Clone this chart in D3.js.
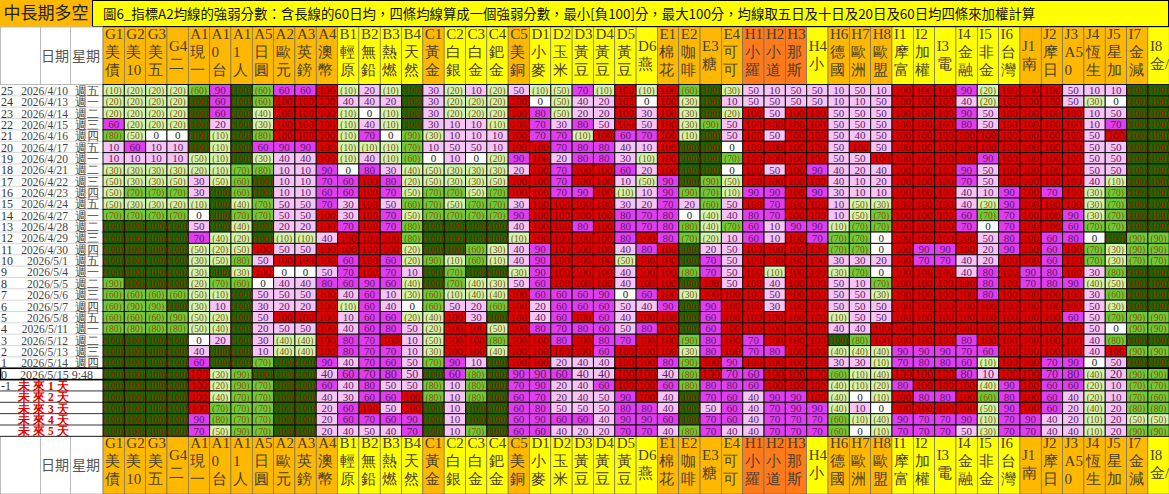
<!DOCTYPE html>
<html lang="zh-Hant">
<head>
<meta charset="UTF-8">
<title>中長期多空</title>
<style>
  body { margin:0; background:#fff; }
  svg { display:block; font-family:"Liberation Serif","DejaVu Serif",serif; }
</style>
</head>
<body>
<svg width="1169" height="494"></svg>
<script src="https://d3js.org/d3.v7.min.js"></script>
<script>
// column codes / names / header colour group (o=orange, y=yellow, r=deep orange)
var codes = ['G1','G2','G3','G4','A1','A1','A1','A5','A2','A3','A4','B1','B2','B3','B4','C1','C2','C3','C4','C5',
  'D1','D2','D3','D4','D5','D6','E1','E2','E3','E4','H1','H2','H3','H4','H6','H7','H8','I1','I2','I3','I4','I5','I6',
  'J1','J2','J3','J4','J5','I7','I8'];
var names = ['美債20','美10年','美五年','二年','現一美','0台幣','1人民','日圓期','歐元期','英鎊期','澳幣期','輕原油','無鉛汽','熱燃油','天然氣',
  '黃金期','白銀期','白金期','鈀金期','美銅期','小麥W','玉米C','黃豆S','黃豆油','黃豆粉','燕麥','棉花','咖啡','糖','可可',
  '小羅素','小道瓊','那斯達','小SP','德國指','歐洲藍','歐盟銀','摩富台','加權指','電子','金融','非金電','台灣櫃',
  '南韓','摩日經','A50大','恆生期','星加坡','金減電','金/電'];
var groups = 'oooooooooooyyyyoyyyoyyyyyyoooorrryoooyyyyyyoooooooy'.split('').slice(0,50);
groups[49] = 'y';
var lowCode = ['G4','D6','E3','H4','I3','J1','I8'];

var rowNums = [25,24,23,22,21,20,19,18,17,16,15,14,13,12,11,10,9,8,7,6,5,4,3,2,1,0,-1,-2,-3,-4,-5];
var dates = ['2026/4/10','2026/4/13','2026/4/14','2026/4/15','2026/4/16','2026/4/17','2026/4/20','2026/4/21','2026/4/22',
  '2026/4/23','2026/4/24','2026/4/27','2026/4/28','2026/4/29','2026/4/30','2026/5/1','2026/5/4','2026/5/5','2026/5/6',
  '2026/5/7','2026/5/8','2026/5/11','2026/5/12','2026/5/13','2026/5/14','2026/5/15 9:48',
  '未來1天','未來2天','未來3天','未來4天','未來5天'];
var weekdays = ['週五','週一','週二','週三','週四','週五','週一','週二','週三','週四','週五','週一','週二','週三','週四','週五',
  '週一','週二','週三','週四','週五','週一','週二','週三','週四','','','','','',''];

// scores, one array per row (negative = shown in brackets)
var scores = [
 [-10,-20,-20,-20,-60,90,-100,-60,60,60,100,-10,20,-10,-100,30,-20,10,-20,50,-10,-50,70,-10,100,-10,100,-60,-100,-30,50,10,50,50,10,50,10,100,100,100,90,-20,100,100,100,50,10,10,-100,-100],
 [-20,-20,-20,-20,-100,60,-100,-60,100,100,100,40,40,20,-100,30,-20,-20,-20,100,0,-50,40,20,100,0,100,-30,-100,10,50,50,50,50,10,10,50,100,100,100,40,-20,100,100,100,50,-30,0,-100,-100],
 [-20,-20,-20,-20,-100,60,-100,-40,100,100,100,-10,0,-10,-100,30,-20,-20,-20,100,80,-50,20,20,100,30,100,-30,-100,-20,100,50,100,100,50,50,50,100,100,100,90,50,100,100,100,100,10,50,-100,-100],
 [60,-20,-20,-20,-100,20,-100,-30,100,100,100,-10,40,-10,-100,30,10,10,-10,100,70,30,80,50,100,50,100,-30,-90,50,100,100,100,100,50,50,50,100,100,100,80,50,100,100,100,100,10,70,-100,-100],
 [-80,-50,0,0,-100,-10,-100,-80,100,100,100,-10,70,0,-90,-30,10,10,10,100,70,70,-10,100,60,70,100,-10,-100,50,100,50,100,100,50,40,50,100,100,100,100,100,100,100,100,100,50,100,-100,-100],
 [10,60,10,10,-100,-10,-100,60,90,90,100,-10,-10,-10,-70,10,50,50,10,100,100,70,80,80,40,10,100,-100,-100,0,100,100,100,100,50,100,50,100,100,100,100,100,100,100,100,100,50,50,-100,-100],
 [10,10,10,10,-50,-10,-100,-30,40,40,100,-10,40,-10,-60,0,10,0,-20,90,100,20,80,80,30,-10,100,-100,-100,-70,100,100,100,100,50,50,100,100,100,100,100,90,100,100,100,100,50,50,-100,-100],
 [-30,-30,-30,-30,-20,-10,-70,-80,10,10,90,0,80,30,-40,-50,-30,-30,-30,20,100,70,100,100,60,20,100,-100,-100,0,100,50,100,90,40,20,40,100,100,100,90,50,100,100,100,100,50,50,-100,-100],
 [-50,-30,-30,-50,30,-50,-60,-100,10,10,70,60,100,80,-20,-50,-30,-30,-50,100,100,70,100,100,10,-50,90,-100,-90,-50,100,100,100,100,40,10,20,100,100,100,70,50,100,100,100,100,40,-10,-100,-100],
 [-50,-70,-70,-70,30,-100,-60,-100,10,10,60,60,100,70,-50,-70,-70,-50,-70,100,100,70,90,100,-10,10,90,-90,-70,-10,90,90,100,90,30,10,10,100,100,100,40,10,90,100,70,100,-30,-70,-100,-100],
 [-50,-30,-30,-20,-10,-100,-40,-70,50,50,70,30,100,50,-60,-70,-50,-70,-70,30,100,100,100,100,30,20,70,20,-60,50,100,70,100,100,10,-50,-30,100,100,100,40,-30,90,100,100,100,-30,-70,-100,-100],
 [-70,-70,-70,-70,0,-100,-70,-70,50,50,100,30,100,70,-50,-70,-70,-70,-70,90,100,100,100,100,80,70,80,0,-40,40,80,70,100,100,10,-50,-70,100,100,100,60,-70,70,100,100,90,-30,-70,-100,-100],
 [-100,-100,-100,-100,50,-100,-40,-100,20,20,100,70,100,70,-80,-100,-100,-100,-100,40,100,100,80,100,80,70,80,-80,-40,-70,60,10,90,90,-10,-70,-70,100,100,100,70,0,70,100,100,60,-70,-70,-100,-100],
 [-100,-100,-100,-100,70,-40,-20,-100,-10,-10,40,100,100,100,-80,-100,-100,-100,-100,-10,100,100,100,100,80,100,80,-70,-20,10,60,10,100,70,-70,-70,0,100,100,100,100,50,80,100,60,80,0,-100,-90,-90],
 [-100,-100,-100,-100,-50,-20,-50,100,50,50,100,100,100,100,-20,-100,-100,-60,-30,40,90,100,100,100,40,80,100,-100,20,50,100,100,100,100,-70,-70,0,100,90,90,100,20,90,100,60,100,-70,-30,-90,-90],
 [-100,-100,-100,-100,-30,-50,-80,50,100,100,100,60,100,60,-20,-90,-10,-60,-10,40,90,100,100,100,-50,100,100,-100,70,50,100,100,100,100,30,30,20,100,70,70,40,20,100,100,60,100,-70,-30,-70,-70],
 [-100,-100,-100,-100,-30,-100,-30,100,0,0,50,70,100,70,10,-100,-70,-100,-100,-30,90,100,100,100,40,100,100,-80,70,50,100,-10,100,100,-30,-70,0,100,100,100,40,80,100,90,80,100,30,-80,-100,-100],
 [-90,-100,-100,-100,-20,-70,-60,0,40,40,80,60,90,60,-40,-100,-70,-40,-30,50,60,100,100,100,40,100,100,-100,100,50,100,40,100,100,50,10,-70,100,100,100,100,80,100,70,80,90,-40,-50,-100,-100],
 [-60,-60,-60,-60,-50,-10,-100,50,50,50,100,40,60,10,-30,-60,-10,-40,-40,100,60,60,60,90,0,60,100,-30,100,100,100,50,100,100,50,50,-30,100,100,100,100,80,100,100,100,100,30,-60,-100,-100],
 [-60,-90,-90,-100,-30,10,-100,30,20,20,100,-10,60,40,0,-60,50,20,-60,100,20,60,60,60,50,40,90,-100,90,100,100,30,100,100,50,50,50,100,100,100,100,100,100,100,100,100,50,-30,-100,-100],
 [-60,-60,-60,-90,-50,-20,-100,50,100,100,100,10,60,60,-20,-40,100,30,-100,100,40,60,100,60,40,100,100,-100,60,100,100,100,100,100,-10,50,50,100,100,100,100,100,100,100,100,60,50,-70,-90,-90],
 [-80,-80,-80,-80,-50,-40,-100,20,50,50,100,40,60,80,50,-20,100,100,-50,100,80,70,80,60,50,80,100,-100,60,100,100,100,100,100,40,40,100,100,100,100,100,100,100,100,100,100,50,0,-90,-90],
 [-100,-100,-100,-100,0,20,-100,30,-40,-40,100,80,70,100,10,-50,100,100,-80,100,100,80,100,80,70,100,100,-90,80,100,70,100,100,100,-100,-80,100,100,100,100,80,100,100,100,100,100,40,-80,-100,-100],
 [-100,-100,-100,-100,40,-100,-100,10,-40,-40,100,80,70,70,10,-30,100,100,-40,100,100,100,100,60,100,100,100,-30,80,100,70,80,100,100,-40,-40,-40,90,90,90,70,60,100,100,100,100,40,100,-90,-90],
 [-100,-100,-100,-100,60,-100,-100,-70,-100,-100,90,40,70,60,50,-70,90,10,-100,100,100,20,40,40,100,100,80,-90,100,90,100,100,100,100,30,30,-10,70,80,80,60,-10,100,100,70,90,0,50,-100,-100],
 [-100,-100,-100,-100,100,-30,-90,-100,-100,-100,40,60,70,80,50,-100,60,-80,-100,90,90,60,40,40,100,100,40,-80,100,70,60,100,100,100,-60,-10,-40,100,100,100,80,10,100,100,70,80,-40,20,-90,-90],
 [-100,-100,-100,-100,100,-20,-90,-70,-100,-100,60,40,80,50,50,-80,10,-80,-100,70,90,20,40,60,100,100,60,-80,80,80,60,100,100,100,-40,-10,-20,80,100,100,100,-40,90,100,60,60,-20,10,-70,-70],
 [-100,-100,-100,-100,100,-40,-70,-70,-100,-100,40,30,60,60,100,-80,10,-80,-100,60,70,20,40,50,90,100,40,-100,70,60,40,90,90,100,-40,0,-10,100,80,80,100,-60,80,100,60,40,-20,10,-70,-60],
 [-100,-100,-100,-100,100,-70,-70,-70,-100,-100,20,60,100,50,100,-100,10,-100,-100,60,80,50,50,50,80,80,40,-100,50,60,40,70,90,90,-40,10,0,100,100,100,100,-50,90,100,60,20,-40,20,-80,-80],
 [-100,-100,-100,-100,90,-80,-70,-70,-100,-100,20,60,70,60,90,-100,10,-100,-100,60,90,60,60,40,90,90,60,-100,70,60,40,70,70,70,-60,-10,-40,90,70,70,90,-10,70,90,40,20,-10,20,-50,-50],
 [-100,-100,-100,-100,70,-50,-90,-70,-100,-100,20,40,50,40,70,-100,10,-70,-100,60,60,40,20,20,70,70,40,-80,70,40,40,70,70,70,-60,0,-10,70,70,70,50,-30,70,70,40,40,-10,20,-90,-90]
];

var svg = d3.select('svg');
var W = 1169, leftX = 103, topY = 84.5, rowH = 11.35;
var hdrColor = {o:'#FFB800', y:'#FFFF00', r:'#FF7A1A'};

var x = d3.scaleBand().domain(d3.range(codes.length)).range([leftX, W + 0.2]);
var y = d3.scaleBand().domain(d3.range(rowNums.length)).range([topY, topY + rowH * rowNums.length]);
var cw = x.bandwidth(), ch = y.bandwidth();
var bottomTop = topY + rowH * rowNums.length;

function fill(v) {
  if (v >= 100) return '#E00000';
  if (v >= 60) return '#E23CF0';
  if (v > 0) return '#F6C4F6';
  if (v === 0) return '#FFFFFF';
  if (v > -60) return '#CFF5B0';
  if (v > -100) return '#6DCB3A';
  return '#1D6400';
}
function ink(v) {
  if (v >= 100) return '#7a0000';
  if (v > 0) return '#5c1a66';
  if (v === 0) return '#222';
  if (v > -100) return '#8a5200';
  return '#8a2200';
}
function label(v) { return v < 0 ? '(' + (-v) + ')' : String(v); }

// title row
svg.append('rect').attr('x', 0).attr('y', 0).attr('width', 92).attr('height', 27).attr('fill', '#FFB800');
svg.append('text').attr('x', 46).attr('y', 19).attr('text-anchor', 'middle')
  .style('font-family', '"Noto Sans CJK TC",sans-serif').style('font-size', '17px').attr('fill', '#222').text('中長期多空');
svg.append('rect').attr('x', 92.5).attr('y', 0.5).attr('width', W - 93).attr('height', 26).attr('fill', '#FFFF00').attr('stroke', '#000');
svg.append('text').attr('x', 103).attr('y', 19)
  .style('font-family', '"Noto Sans CJK TC",sans-serif').style('font-size', '13.4px').attr('fill', '#111')
  .text('圖6_指標A2均線的強弱分數：含長線的60日均，四條均線算成一個強弱分數，最小[負100]分，最大100分，均線取五日及十日及20日及60日均四條來加權計算');

// column headers (top and bottom)
function header(y0, h) {
  var g = svg.append('g');
  var clip = 'clip' + Math.round(y0);
  g.append('clipPath').attr('id', clip).append('rect').attr('x', 0).attr('y', y0).attr('width', W).attr('height', h);
  var cols = g.append('g').attr('clip-path', 'url(#' + clip + ')').selectAll('g').data(codes).join('g');
  cols.append('rect').attr('x', (d, i) => x(i)).attr('y', y0).attr('width', cw).attr('height', h)
    .attr('fill', (d, i) => hdrColor[groups[i]]).attr('stroke', '#666').attr('stroke-width', 0.6);
  cols.each(function(d, i) {
    var lines = [d].concat(Array.from(names[i]));
    if (names[i] === '小SP') lines = [d, '小', 'SP'];
    if (names[i] === '金/電') lines = [d, '金/', '電'];
    if (names[i] === '美10年') lines = [d, '美', '10', '年'];
    if (names[i] === '美債20') lines = [d, '美', '債', '20'];
    if (names[i] === 'A50大') lines = [d, 'A5', '0', '大'];
    var off = lowCode.indexOf(d) >= 0 ? 12 : 0;
    var maxY = y0 + h + 1;
    d3.select(this).selectAll('text.h').data(lines.filter((t, k) => y0 + 12 + off + k * 18 <= maxY)).join('text')
      .attr('x', x(i) + 2).attr('y', (t, k) => y0 + 12 + off + k * 18)
      .style('font-size', '15px').attr('fill', '#4a4030').text(t => t);
  });
  g.append('rect').attr('x', 0.5).attr('y', y0).attr('width', 40).attr('height', h).attr('fill', '#fff').attr('stroke', '#bbb');
  g.append('rect').attr('x', 40.5).attr('y', y0).attr('width', 30).attr('height', h).attr('fill', '#fff').attr('stroke', '#bbb');
  g.append('rect').attr('x', 70.5).attr('y', y0).attr('width', 32).attr('height', h).attr('fill', '#fff').attr('stroke', '#bbb');
  g.append('text').attr('x', 55).attr('y', y0 + h / 2 + 5).attr('text-anchor', 'middle')
    .style('font-family', '"Noto Sans CJK TC",sans-serif').style('font-size', '14px').attr('fill', '#555').text('日期');
  g.append('text').attr('x', 86).attr('y', y0 + h / 2 + 5).attr('text-anchor', 'middle')
    .style('font-family', '"Noto Sans CJK TC",sans-serif').style('font-size', '14px').attr('fill', '#555').text('星期');
}
header(27, topY - 27);
header(bottomTop, 494 - bottomTop);

// left labels
var leftG = svg.append('g');
leftG.selectAll('line').data(rowNums).join('line')
  .attr('x1', 0).attr('x2', leftX).attr('y1', (d, i) => y(i) + ch).attr('y2', (d, i) => y(i) + ch)
  .attr('stroke', (d, i) => i >= 25 ? '#000' : '#ccc').attr('stroke-width', 0.8);
leftG.selectAll('text.n').data(rowNums).join('text').attr('class', 'n')
  .attr('x', 1).attr('y', (d, i) => y(i) + ch - 1).style('font-size', '12px').attr('fill', '#333')
  .text(d => d >= -1 ? d : '');
leftG.selectAll('text.d').data(dates).join('text').attr('class', 'd')
  .attr('x', (d, i) => i >= 26 ? 18 : (i === 25 ? 20 : 68))
  .attr('text-anchor', (d, i) => i >= 25 ? 'start' : 'end')
  .attr('y', (d, i) => y(i) + ch - 1)
  .style('font-size', (d, i) => i === 25 ? '12px' : '11.5px')
  .style('font-weight', (d, i) => i >= 26 ? 'bold' : 'normal')
  .style('letter-spacing', (d, i) => i >= 26 ? '3px' : null)
  .attr('fill', (d, i) => i >= 26 ? '#E00000' : '#444').text(d => d);
leftG.selectAll('text.w').data(weekdays).join('text').attr('class', 'w')
  .attr('x', 75).attr('y', (d, i) => y(i) + ch - 1).style('font-size', '11.5px').attr('fill', '#444').text(d => d);

// cells
var cells = [];
scores.forEach((row, r) => row.forEach((v, c) => cells.push({r: r, c: c, v: v})));
var cg = svg.append('g');
cg.selectAll('rect').data(cells).join('rect')
  .attr('x', d => x(d.c)).attr('y', d => y(d.r)).attr('width', cw).attr('height', ch)
  .attr('fill', d => fill(d.v)).attr('stroke', '#111').attr('stroke-width', 1);
cg.selectAll('text').data(cells).join('text')
  .attr('x', d => x(d.c) + cw / 2).attr('y', d => y(d.r) + ch - 1.8).attr('text-anchor', 'middle')
  .style('font-size', d => label(d.v).length >= 4 ? '9.5px' : (d.r === 25 ? '12px' : '11px'))
  .attr('fill', d => ink(d.v)).text(d => label(d.v));

// row 0 frame
svg.append('rect').attr('x', 0.5).attr('y', y(25)).attr('width', W - 1).attr('height', ch)
  .attr('fill', 'none').attr('stroke', '#000').attr('stroke-width', 1.6);
</script>
</body>
</html>
